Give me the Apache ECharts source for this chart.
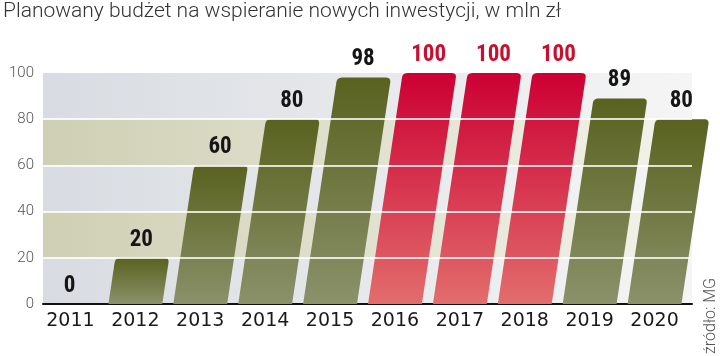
<!DOCTYPE html>
<html>
<head>
<meta charset="utf-8">
<script src="https://cdn.jsdelivr.net/npm/echarts@6/dist/echarts.min.js"></script>
<style>html,body{margin:0;padding:0;background:#fff;}#c{width:720px;height:356px;}</style>
</head>
<body>
<div id="c"></div>
<script>
const titleText = 'Planowany budżet na wspieranie nowych inwestycji, w mln zł';
const sourceText = 'źródło: MG';
const categories = ['2011','2012','2013','2014','2015','2016','2017','2018','2019','2020'];
const values = [0, 20, 60, 80, 98, 100, 100, 100, 89, 80];
const highlighted = ['2016','2017','2018'];
const yTicks = [0, 20, 40, 60, 80, 100];

const chart = echarts.init(document.getElementById('c'), null, {renderer: 'canvas'});

const SKEW = 0.15, BASE_SHIFT = -5;

function roundCorner(p0, p1, p2, r, n) {
  const d1 = Math.hypot(p1[0]-p0[0], p1[1]-p0[1]);
  const d2 = Math.hypot(p2[0]-p1[0], p2[1]-p1[1]);
  const rr = Math.min(r, d1/2, d2/2);
  const a = [p1[0] + (p0[0]-p1[0])/d1*rr, p1[1] + (p0[1]-p1[1])/d1*rr];
  const b = [p1[0] + (p2[0]-p1[0])/d2*rr, p1[1] + (p2[1]-p1[1])/d2*rr];
  const pts = [];
  for (let i = 0; i <= n; i++) {
    const t = i / n;
    const x = (1-t)*(1-t)*a[0] + 2*(1-t)*t*p1[0] + t*t*b[0];
    const y = (1-t)*(1-t)*a[1] + 2*(1-t)*t*p1[1] + t*t*b[1];
    pts.push([x, y]);
  }
  return pts;
}

function renderItem(params, api) {
  const idx = api.value(0);
  const v = api.value(1);
  const base = api.coord([idx, 0]);
  const top = api.coord([idx, v]);
  const catW = api.size([1, 0])[0];
  const w = catW * 0.83;
  const y0 = base[1], yt = top[1];
  const shift = y => BASE_SHIFT + SKEW * (y0 - y);
  const cx = base[0];
  const isHi = highlighted.indexOf(categories[idx]) >= 0;
  const children = [];
  if (y0 - yt > 0.5) {
    const BL = [cx + shift(y0) - w/2, y0];
    const BR = [BL[0] + w, y0];
    const TL = [cx + shift(yt) - w/2, yt];
    const TR = [TL[0] + w, yt];
    const pts = [BL].concat(roundCorner(BL, TL, TR, 5, 6), roundCorner(TL, TR, BR, 5, 6), [BR]);
    children.push({
      type: 'polygon',
      shape: {points: pts},
      style: {
        fill: new echarts.graphic.LinearGradient(0, 0, 0, 1, isHi ?
          [{offset: 0, color: '#cc0033'}, {offset: 1, color: '#e26d6c'}] :
          [{offset: 0, color: '#59621f'}, {offset: 1, color: '#8b916a'}])
      }
    });
  }
  children.push({
    type: 'text',
    style: {
      text: String(v),
      x: cx + shift(yt) - 1,
      y: yt - 18,
      align: 'center',
      verticalAlign: 'middle',
      fontSize: 23,
      fontWeight: 'bold',
      fontFamily: "'Roboto Condensed','DejaVu Sans Condensed','Liberation Sans Narrow',sans-serif",
      fill: isHi ? '#c8102e' : '#151515'
    }
  });
  return {type: 'group', children: children};
}

const option = {
  animation: false,
  backgroundColor: '#ffffff',
  title: {
    text: titleText,
    left: 3, top: 1, padding: 0,
    textStyle: {fontSize: 21, fontWeight: 300, fontFamily: 'Roboto, sans-serif', color: '#333'}
  },
  grid: {left: 43, right: 28, top: 73, bottom: 52, containLabel: false},
  xAxis: {
    type: 'category',
    data: categories,
    axisLine: {show: true, lineStyle: {color: '#111', width: 2}},
    axisTick: {show: false},
    axisLabel: {
      fontSize: 19, color: '#1a1a1a', margin: 8,
      fontFamily: "'DejaVu Sans', sans-serif",
      padding: [0, 10, 0, 0]
    },
    splitLine: {show: false}
  },
  yAxis: {
    type: 'value',
    min: yTicks[0], max: yTicks[yTicks.length - 1], interval: 20,
    axisLine: {show: false},
    axisTick: {show: false},
    axisLabel: {fontSize: 15, color: '#555', margin: 9, fontFamily: 'Roboto, sans-serif', fontWeight: 300},
    splitLine: {show: false},
    splitArea: {
      show: true,
      areaStyle: {
        color: [
          new echarts.graphic.LinearGradient(0, 0, 1, 0, [{offset: 0, color: '#d8dce2'}, {offset: 1, color: '#f5f5f5'}]),
          new echarts.graphic.LinearGradient(0, 0, 1, 0, [{offset: 0, color: '#cfcfb4'}, {offset: 1, color: '#f3f3ec'}])
        ]
      }
    }
  },
  series: [{
    type: 'custom',
    renderItem: renderItem,
    encode: {x: 0, y: 1},
    data: values.map((v, i) => [i, v]),
    z: 3,
    markLine: {
      silent: true,
      symbol: ['none', 'none'],
      label: {show: false},
      lineStyle: {color: 'rgba(255,255,255,0.8)', width: 2, type: 'solid'},
      data: yTicks.slice(1, -1).map(t => ({yAxis: t}))
    }
  }],
  graphic: [{
    type: 'text',
    x: 711, y: 354,
    rotation: Math.PI / 2,
    style: {
      text: sourceText,
      fontSize: 16,
      fontFamily: 'Roboto, sans-serif',
      fontWeight: 300,
      fill: '#555',
      align: 'left',
      verticalAlign: 'middle'
    }
  }]
};
chart.setOption(option);
</script>
</body>
</html>
